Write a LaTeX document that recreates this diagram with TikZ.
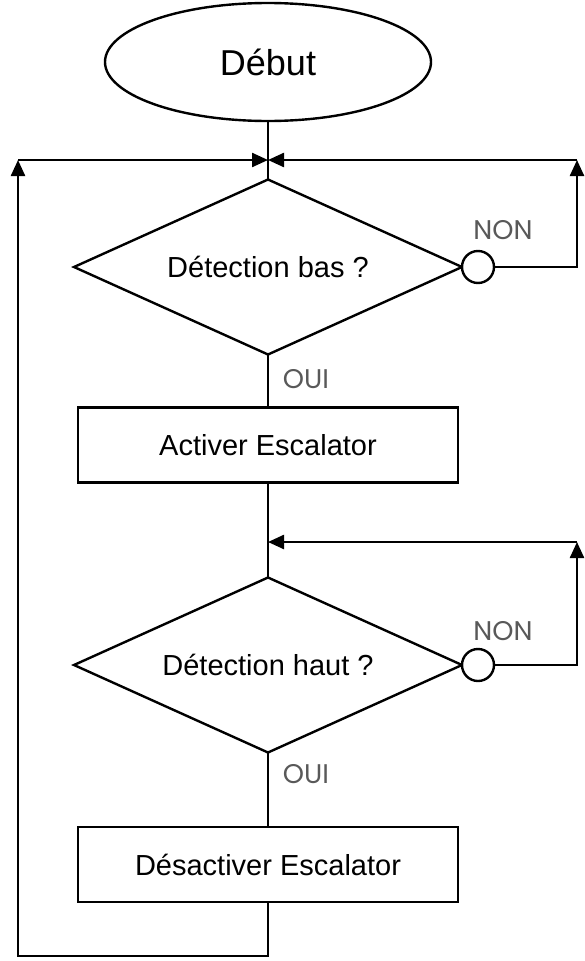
\documentclass[tikz,border=0pt]{standalone}
\usepackage{fontspec}
\setmainfont{Liberation Sans}
\newfontfamily\labfont{Poppins}
\usetikzlibrary{shapes.geometric,arrows.meta}
\definecolor{labgray}{HTML}{595959}
\begin{document}
\begin{tikzpicture}[x=1pt,y=-1pt,line width=2.4pt,
  every node/.style={inner sep=0pt,outer sep=0pt},
  body/.style={font=\fontsize{29}{34}\selectfont},
  startbox/.style={draw,ellipse,minimum width=326pt,minimum height=118pt,font=\fontsize{36}{42}\selectfont},
  decision/.style={draw,diamond,aspect=2.217,minimum width=388pt,minimum height=175pt,body},
  process/.style={draw,rectangle,minimum width=380pt,minimum height=75pt,body},
  connector/.style={draw,circle,minimum size=32pt,fill=white},
  branchlabel/.style={text=labgray,font=\labfont\fontsize{27}{32}\selectfont},
  arr/.style={-{Triangle[length=16pt,width=14pt]}},
  line join=miter]
\useasboundingbox (0,0) rectangle (585,961);
\fill[white] (0,0) rectangle (585,961);

\node[startbox] (start) at (268,62) {Début};
\node[decision] (d1) at (268,267) {Détection bas ?};
\node[process] (r1) at (268,445) {Activer Escalator};
\node[decision] (d2) at (268,665) {Détection haut ?};
\node[process] (r2) at (268,864.5) {Désactiver Escalator};

\node[connector] (c1) at (478,267) {};
\node[connector] (c2) at (478,665) {};

\node[branchlabel] (non1) at (503,230) {NON};
\node[branchlabel] (non2) at (503,631) {NON};
\node[branchlabel] (oui1) at (306,379) {OUI};
\node[branchlabel] (oui2) at (306,774) {OUI};

\coordinate (j1) at (268,160);
\coordinate (j2) at (268,542);
\coordinate (tl) at (18,160);
\coordinate (bl) at (18,956);
\coordinate (tr1) at (577,160);
\coordinate (tr2) at (577,542);

\draw (start.south) -- (d1.north);
\draw (d1.south) -- (r1.north);
\draw (r1.south) -- (d2.north);
\draw (d2.south) -- (r2.north);

\draw[arr] (r2.south) |- (bl) -- (tl);
\draw[arr] (tl) -- (j1);
\draw[arr] (c1.east) -| (tr1);
\draw[arr] (tr1) -- (j1);
\draw[arr] (c2.east) -| (tr2);
\draw[arr] (tr2) -- (j2);
\end{tikzpicture}
\end{document}
